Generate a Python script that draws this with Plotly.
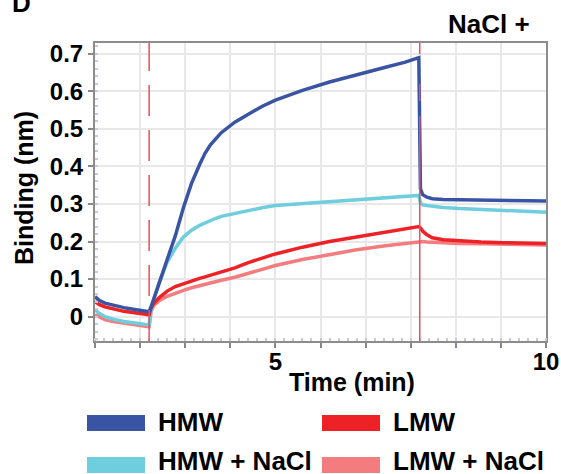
import plotly.graph_objects as go

# Time (min)
time_min = [1.667, 1.75, 1.85, 2.0, 2.2, 2.4, 2.6, 2.667, 2.70, 2.75, 2.85, 3.0, 3.15, 3.3, 3.45, 3.6,
            3.7, 3.8, 3.9, 4.0, 4.25, 4.5, 4.75, 5.0, 5.5, 6.0, 6.5, 7.0, 7.4, 7.65, 7.68, 7.72, 7.8, 7.9,
            8.1, 8.4, 8.8, 9.2, 9.6, 10.0]

hmw = [0.053, 0.043, 0.036, 0.030, 0.024, 0.019, 0.015, 0.013, 0.025, 0.045, 0.088, 0.152, 0.215, 0.290,
       0.355, 0.405, 0.435, 0.458, 0.475, 0.490, 0.518, 0.540, 0.560, 0.577, 0.603, 0.625, 0.645, 0.663,
       0.678, 0.690, 0.340, 0.325, 0.318, 0.314, 0.312, 0.311, 0.310, 0.309, 0.309, 0.308]

hmw_nacl = [0.018, 0.008, 0.000, -0.007, -0.013, -0.018, -0.021, -0.022, 0.015, 0.045, 0.090, 0.145, 0.182,
            0.212, 0.230, 0.243, 0.250, 0.256, 0.262, 0.267, 0.275, 0.284, 0.290, 0.296, 0.301, 0.305,
            0.310, 0.315, 0.319, 0.323, 0.303, 0.298, 0.296, 0.294, 0.291, 0.288, 0.285, 0.282, 0.280,
            0.278]

lmw = [0.040, 0.032, 0.026, 0.020, 0.014, 0.010, 0.006, 0.005, 0.022, 0.035, 0.050, 0.068, 0.080, 0.088,
       0.095, 0.102, 0.106, 0.110, 0.115, 0.120, 0.130, 0.144, 0.155, 0.167, 0.185, 0.200, 0.212, 0.225,
       0.234, 0.240, 0.236, 0.228, 0.218, 0.210, 0.205, 0.202, 0.199, 0.197, 0.196, 0.195]

lmw_nacl = [0.005, -0.002, -0.008, -0.013, -0.018, -0.022, -0.026, -0.027, 0.012, 0.030, 0.042, 0.054,
            0.063, 0.070, 0.077, 0.083, 0.087, 0.090, 0.094, 0.097, 0.105, 0.115, 0.125, 0.136, 0.152,
            0.166, 0.178, 0.188, 0.195, 0.200, 0.200, 0.200, 0.199, 0.198, 0.197, 0.195, 0.194, 0.193,
            0.192, 0.191]

series_names = ["HMW", "LMW", "HMW + NaCl", "LMW + NaCl"]
series_colors = {"HMW": "#3a54a4", "LMW": "#ee2127", "HMW + NaCl": "#6ecedd", "LMW + NaCl": "#f37c7f"}
series_values = {"HMW": hmw, "LMW": lmw, "HMW + NaCl": hmw_nacl, "LMW + NaCl": lmw_nacl}
draw_order = ["LMW + NaCl", "HMW + NaCl", "LMW", "HMW"]

event_times = [2.667, 7.667]

x_tickvals = [1.6667 + i * 5 / 6 for i in range(11)]
x_ticktext = ["" for _ in range(11)]
x_ticktext[4] = "5"
x_ticktext[10] = "10"
y_tickvals = [0, 0.1, 0.2, 0.3, 0.4, 0.5, 0.6, 0.7]
y_ticktext = ["0", "0.1", "0.2", "0.3", "0.4", "0.5", "0.6", "0.7"]

FONT = "Liberation Sans, Arial, sans-serif"

fig = go.Figure()
for name in draw_order:
    fig.add_trace(go.Scatter(x=time_min, y=series_values[name], mode="lines", name=name,
                             line=dict(color=series_colors[name], width=3.5), showlegend=False))

# event lines
dashes = ["31px,14px", "225px,15px,17px,30px,20px"]
for t, d in zip(event_times, dashes):
    fig.add_shape(type="line", x0=t, x1=t, xref="x", y0=0, y1=1, yref="paper",
                  line=dict(color="#e8505a", width=1.5, dash=d), layer="above")

# legend (manual)
L, R, T, B = 95, 546, 43, 341
def px_x(p):
    return (p - L) / (R - L)
def px_y(p):
    return 1 - (p - T) / (B - T)

leg_pos = [(87, 415, 7), (322, 415, 7), (87, 457, 4), (322, 457, 4)]
for name, (lx, ly, dy) in zip(series_names, leg_pos):
    fig.add_shape(type="rect", xref="paper", yref="paper",
                  x0=px_x(lx), x1=px_x(lx + 58), y0=px_y(ly), y1=px_y(ly + 16),
                  fillcolor=series_colors[name], line=dict(width=0))
    fig.add_annotation(text=name, xref="paper", yref="paper", x=px_x(lx + 69), y=px_y(ly + dy),
                       xanchor="left", yanchor="middle", showarrow=False,
                       font=dict(family=FONT, size=26, color="black", weight="bold"))

fig.add_annotation(text="NaCl +", xref="paper", yref="paper", x=px_x(489), y=px_y(24),
                   xanchor="center", yanchor="middle", showarrow=False,
                   font=dict(family=FONT, size=26, color="black", weight="bold"))
fig.add_annotation(text="D", xref="paper", yref="paper", x=px_x(10), y=px_y(3),
                   xanchor="left", yanchor="middle", showarrow=False,
                   font=dict(family=FONT, size=26, color="black", weight="bold"))
fig.add_annotation(text="Time (min)", xref="paper", yref="paper", x=px_x(352), y=px_y(382),
                   xanchor="center", yanchor="middle", showarrow=False,
                   font=dict(family=FONT, size=25, color="black", weight="bold"))
fig.add_annotation(text="Binding (nm)", xref="paper", yref="paper", x=px_x(24), y=px_y(188),
                   xanchor="center", yanchor="middle", showarrow=False, textangle=-90,
                   font=dict(family=FONT, size=25, color="black", weight="bold"))

fig.update_xaxes(range=[1.6667, 10.0], tickmode="array", tickvals=x_tickvals, ticktext=x_ticktext,
                 ticks="outside", ticklen=5, tickwidth=1.5, tickcolor="#888888", automargin=False,
                 ticklabelstandoff=-7,
                 showgrid=True, gridcolor="#e8e8e8", gridwidth=2,
                 showline=True, linecolor="#8c8c8c", linewidth=2, mirror=True, zeroline=False,
                 tickfont=dict(family=FONT, size=24, color="black", weight="bold"),
                 minor=dict(ticks="inside", ticklen=3, tickwidth=2, tickcolor="#c9c6ea",
                            tick0=1.6667, dtick=1 / 6, showgrid=False))
fig.update_yaxes(range=[-0.065, 0.729], tickmode="array", tickvals=y_tickvals, ticktext=y_ticktext,
                 ticks="outside", ticklen=5, tickwidth=1.5, tickcolor="#888888", automargin=False,
                 showgrid=True, gridcolor="#e8e8e8", gridwidth=2,
                 showline=True, linecolor="#8c8c8c", linewidth=2, mirror=True, zeroline=False,
                 tickfont=dict(family=FONT, size=24, color="black", weight="bold"),
                 minor=dict(ticks="inside", ticklen=3, tickwidth=2, tickcolor="#c9c6ea",
                            tick0=0, dtick=0.02, showgrid=False))

fig.update_layout(width=561, height=474, margin=dict(l=L, r=561 - R, t=T, b=474 - B),
                  plot_bgcolor="white", paper_bgcolor="white")

fig.write_html("out.html")
